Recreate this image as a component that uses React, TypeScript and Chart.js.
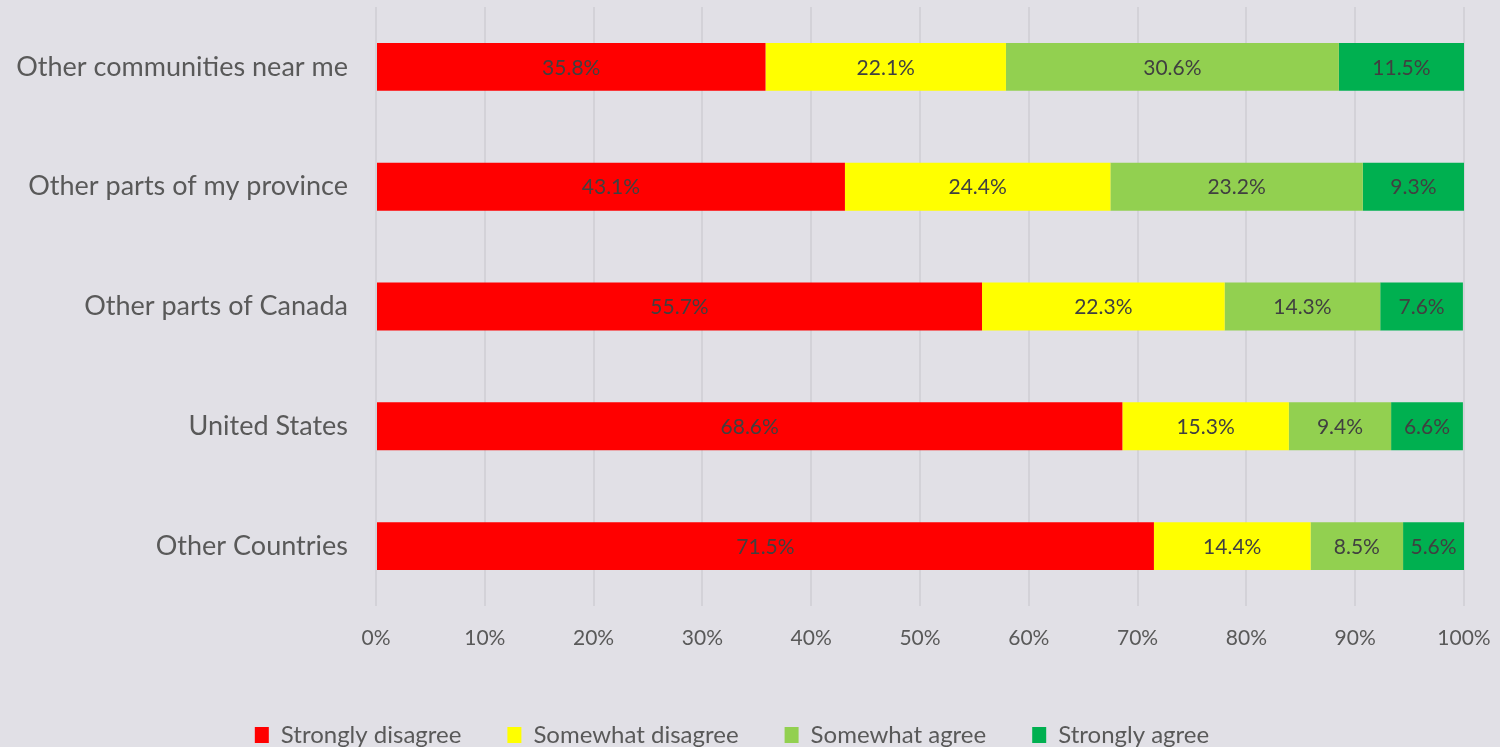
import React, { useEffect, useRef } from "react";
import { Chart, registerables } from "chart.js";

Chart.register(...registerables);

const categories = [
  "Other communities near me",
  "Other parts of my province",
  "Other parts of Canada",
  "United States",
  "Other Countries",
];
const seriesNames = ["Strongly disagree", "Somewhat disagree", "Somewhat agree", "Strongly agree"];
const stronglyDisagree = [35.8, 43.1, 55.7, 68.6, 71.5];
const somewhatDisagree = [22.1, 24.4, 22.3, 15.3, 14.4];
const somewhatAgree = [30.6, 23.2, 14.3, 9.4, 8.5];
const stronglyAgree = [11.5, 9.3, 7.6, 6.6, 5.6];
const seriesColors = ["#FF0000", "#FFFF00", "#92D050", "#00B050"];
const xTicks = [0, 10, 20, 30, 40, 50, 60, 70, 80, 90, 100];

const FONT = "Lato, 'Open Sans', sans-serif";
const BG = "#E1E0E6";
const PLOT_BOTTOM = 606;
const PAD_BOTTOM = -10;

const labelPlugin = {
  id: "barLabels",
  afterDatasetsDraw(chart: any) {
    const ctx = chart.ctx;
    ctx.save();
    ctx.font = `21px ${FONT}`;
    ctx.fillStyle = "#404040";
    ctx.textAlign = "center";
    ctx.textBaseline = "middle";
    chart.data.datasets.forEach((ds: any, di: number) => {
      const meta = chart.getDatasetMeta(di);
      meta.data.forEach((el: any, i: number) => {
        const v = ds.data[i];
        const cx = (el.x + el.base) / 2;
        ctx.fillText(v.toFixed(1) + "%", cx, el.y + 1);
      });
    });
    ctx.restore();
  },
};

export default function App() {
  const ref = useRef<HTMLCanvasElement | null>(null);
  useEffect(() => {
    document.body.style.margin = "0";
    document.body.style.background = BG;
    const all = [stronglyDisagree, somewhatDisagree, somewhatAgree, stronglyAgree];
    const chart = new Chart(ref.current as HTMLCanvasElement, {
      type: "bar",
      data: {
        labels: categories,
        datasets: all.map((d, i) => ({
          label: seriesNames[i],
          data: d,
          backgroundColor: seriesColors[i],
          borderWidth: 0,
          categoryPercentage: 1,
          barPercentage: 0.4,
        })),
      },
      options: {
        indexAxis: "y",
        responsive: false,
        animation: false,
        layout: { padding: { top: 7, right: 36, bottom: PAD_BOTTOM, left: 0 } },
        plugins: {
          legend: {
            position: "bottom",
            labels: {
              boxWidth: 14,
              boxHeight: 16,
              padding: 46,
              color: "#595959",
              font: { family: FONT, size: 24 },
            },
          },
          tooltip: { enabled: false },
        },
        scales: {
          x: {
            stacked: true,
            min: 0,
            max: 100,
            afterBuildTicks: (s: any) => {
              s.ticks = xTicks.map((v) => ({ value: v }));
            },
            afterFit: (s: any) => {
              const lh = s.chart.legend ? s.chart.legend.height : 0;
              s.height = s.chart.height - PLOT_BOTTOM - lh - PAD_BOTTOM;
              s.paddingLeft = 0;
              s.paddingRight = 0;
            },
            border: { display: false },
            grid: { color: "#D3D2D8", lineWidth: 2, drawTicks: false },
            ticks: {
              padding: 20,
              color: "#595959",
              font: { family: FONT, size: 21 },
              callback: (v: any) => v + "%",
              maxRotation: 0,
            },
          },
          y: {
            stacked: true,
            afterFit: (s: any) => {
              s.width = 376;
              s.paddingTop = 0;
              s.paddingBottom = 0;
            },
            border: { display: false },
            grid: { display: false, drawTicks: false },
            ticks: {
              padding: 28,
              color: "#595959",
              font: { family: FONT, size: 27 },
            },
          },
        },
      },
      plugins: [labelPlugin],
    } as any);
    return () => chart.destroy();
  }, []);
  return (
    <div style={{ width: 1500, height: 747, background: BG }}>
      <canvas ref={ref} width={1500} height={747} style={{ display: "block" }} />
    </div>
  );
}
